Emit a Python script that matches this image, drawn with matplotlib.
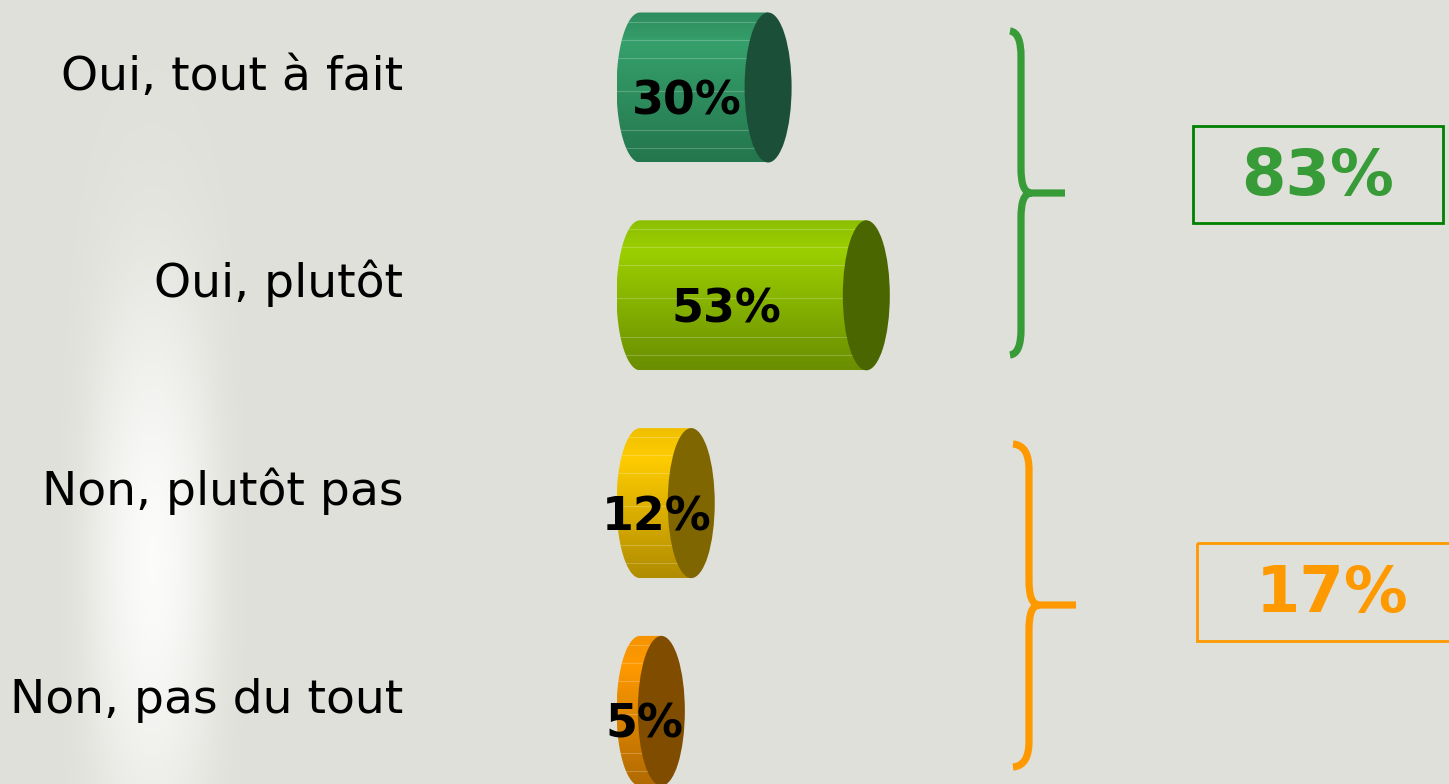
import numpy as np
import matplotlib
matplotlib.use('Agg')
import matplotlib.pyplot as plt
from matplotlib.patches import Ellipse, Rectangle, PathPatch
from matplotlib.path import Path
from matplotlib.colors import LinearSegmentedColormap

# data
categories = ['Oui, tout à fait', 'Oui, plutôt', 'Non, plutôt pas', 'Non, pas du tout']
values = [30, 53, 12, 5]
groups = [(0, 2), (2, 4)]   # oui / non

# styles
body_colors = [['#2e8b5e', '#35a06b', '#24764d'],
               ['#8cbf00', '#9ccf00', '#6a8e00'],
               ['#f0c000', '#ffcc00', '#b08c00'],
               ['#f59300', '#ff9900', '#b06a00']]
cap_colors = ['#1c4f38', '#4a6600', '#806600', '#804d00']
group_colors = ['#379b37', '#ff9900']
box_edges = ['#008000', '#ff9900']
bg_color = np.array([224, 224, 218]) / 255

W, H = 1449, 784
fig = plt.figure(figsize=(W / 100, H / 100), dpi=100)

# background with the soft white glow on the left
bg = fig.add_axes([0, 0, 1, 1])
bg.axis('off')
xx, yy = np.meshgrid(np.arange(W), np.arange(H))
hx = 0.6 * np.exp(-((xx - 152) / 50.0) ** 2) + 0.4 * np.exp(-(np.abs(xx - 152) / 70.0) ** 4)
vy = np.exp(-((yy - 560) / 270.0) ** 2)
alpha = (hx * vy)[..., None] * 0.88
img = bg_color * (1 - alpha) + np.array([1.0, 1.0, 1.0]) * alpha
bg.imshow(img, extent=(0, W, H, 0), aspect='auto')
bg.set_xlim(0, W)
bg.set_ylim(H, 0)

# cylinders
ax = fig.add_axes([0, 0, 1, 1])
ax.patch.set_alpha(0)
ax.axis('off')
x0, scale = 640.0, 4.27      # pixel of 0 %, pixels per %
y0, step = 87.5, 207.8       # pixel of first row, pixels per row
h = 150 / step
a = 23.5 / scale

t = np.linspace(np.pi / 2, 3 * np.pi / 2, 80)
for i, (v, cols, cap) in enumerate(zip(values, body_colors, cap_colors)):
    y = i
    ex = a * np.cos(t)
    ey = y - (h / 2) * np.sin(t)
    verts = [(v, y - h / 2)] + list(zip(ex, ey)) + [(v, y + h / 2), (v, y - h / 2)]
    body = PathPatch(Path(verts, closed=True), facecolor='none', edgecolor='none')
    ax.add_patch(body)
    cmap = LinearSegmentedColormap.from_list('b%d' % i, [(0, cols[0]), (0.2, cols[1]), (1, cols[2])])
    grad = np.linspace(0, 1, 200)[:, None]
    im = ax.imshow(grad, cmap=cmap, extent=(-a, v, y + h / 2, y - h / 2), aspect='auto', zorder=2)
    im.set_clip_path(body)
    # faint texture lines on the body
    for f in [0.06, 0.18, 0.3, 0.52, 0.78, 0.9]:
        ln, = ax.plot([-a, v], [y - h / 2 + f * h] * 2, color='white', alpha=0.22, lw=0.8, zorder=2.5)
        ln.set_clip_path(body)
    ax.add_patch(Ellipse((v, y), 2 * a, h, facecolor=cap, edgecolor='none', zorder=3))
    ax.text(v * 0.4 - 1, y + 0.07, '%d%%' % v, ha='center', va='center',
            fontsize=33, fontweight='bold', color='black', zorder=4)
    ax.text((403 - x0) / scale, y + 0.01, categories[i], ha='right', va='baseline',
            fontsize=34, color='black', zorder=4)

ax.set_xlim(-x0 / scale, (W - x0) / scale)
ax.set_ylim((H - y0) / step, -y0 / step)

# braces and totals
ov = fig.add_axes([0, 0, 1, 1])
ov.patch.set_alpha(0)
ov.axis('off')
ov.set_xlim(0, W)
ov.set_ylim(H, 0)


def brace(ax, xl, xc, ya, yb, ym, xt, color):
    r = 26
    M, C, L = Path.MOVETO, Path.CURVE4, Path.LINETO
    verts = [(xl, ya), (xl + (xc - xl) * 0.7, ya + 1), (xc, ya + 10), (xc, ya + r),
             (xc, ym - r), (xc, ym - 8), (xc + 3, ym - 1), (xc + 10, ym),
             (xt, ym),
             (xc + 10, ym), (xc + 3, ym + 1), (xc, ym + 8), (xc, ym + r),
             (xc, yb - r), (xc, yb - 10), (xl + (xc - xl) * 0.7, yb - 1), (xl, yb)]
    codes = [M, C, C, C, L, C, C, C, L, M, C, C, C, L, C, C, C]
    ax.add_patch(PathPatch(Path(verts, codes), facecolor='none', edgecolor=color,
                           lw=5.2, capstyle='butt', joinstyle='round'))


brace(ov, 1010, 1021, 31, 355, 193, 1065, group_colors[0])
brace(ov, 1013, 1029, 444, 767, 605, 1076, group_colors[1])

boxes = [(1193, 126, 250, 97), (1197, 543, 300, 98)]
for (g0, g1), col, ec, (bx, by, bw, bh) in zip(groups, group_colors, box_edges, boxes):
    total = sum(values[g0:g1])
    ov.add_patch(Rectangle((bx, by), bw, bh, facecolor='none', edgecolor=ec, lw=2))
    cx = bx + 125 if g0 == 0 else bx + 135
    ov.text(cx, by + bh / 2 + 2, '%d%%' % total, ha='center', va='center',
            fontsize=46, fontweight='bold', color=col)

fig.savefig('out.png', dpi=100)
